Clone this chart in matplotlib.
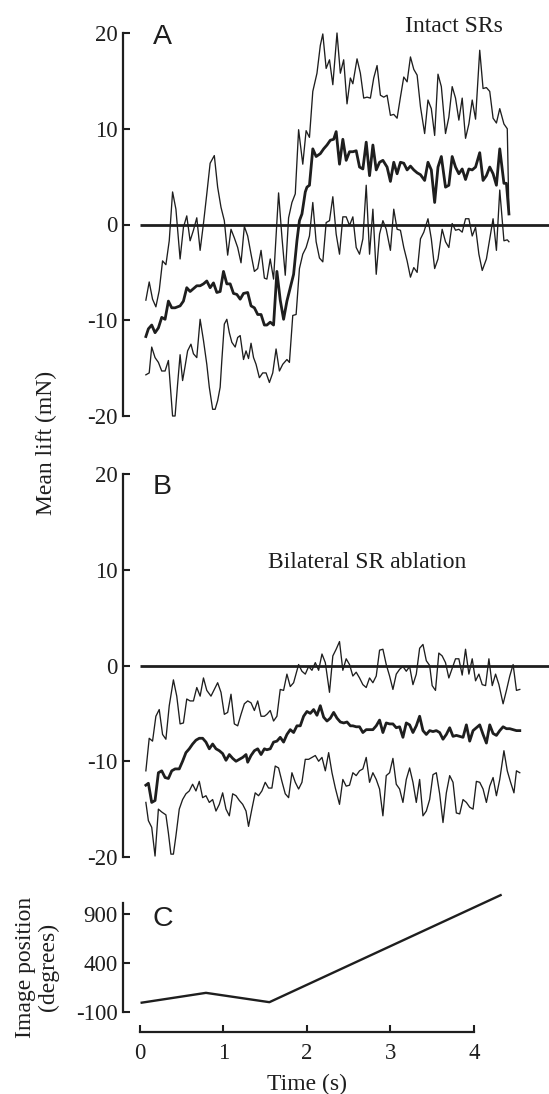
import matplotlib.pyplot as plt

plt.rcParams['font.family'] = ['Liberation Serif', 'DejaVu Serif']
plt.rcParams['axes.unicode_minus'] = False

ink = '#1e1e1e'

# ---------------- data ----------------
# Panel A - intact SRs: mean lift and the two envelope lines (mN)
a_up_t = [0.07, 0.11, 0.15, 0.19, 0.23, 0.27, 0.31, 0.35, 0.39, 0.43, 0.48, 0.52, 0.56, 0.60, 0.64, 0.68,
          0.72, 0.76, 0.80, 0.84, 0.89, 0.93, 0.97, 1.01, 1.05, 1.09, 1.13, 1.17, 1.21, 1.25, 1.29, 1.33,
          1.37, 1.41, 1.45, 1.49, 1.52, 1.56, 1.60, 1.66, 1.70, 1.74, 1.78, 1.82, 1.86, 1.90, 1.95, 1.99,
          2.03, 2.07, 2.12, 2.16, 2.19, 2.23, 2.27, 2.31, 2.36, 2.40, 2.44, 2.48, 2.52, 2.55, 2.60, 2.64,
          2.68, 2.72, 2.76, 2.80, 2.84, 2.88, 2.92, 2.96, 3.00, 3.04, 3.08, 3.12, 3.16, 3.20, 3.24, 3.28,
          3.32, 3.36, 3.41, 3.45, 3.49, 3.53, 3.57, 3.61, 3.66, 3.70, 3.74, 3.78, 3.82, 3.86, 3.90, 3.94,
          3.98, 4.02, 4.07, 4.11, 4.15, 4.19, 4.23, 4.27, 4.31, 4.36, 4.40, 4.42]
a_up_v = [-7.9, -6.0, -7.8, -8.6, -6.9, -3.8, -4.2, -1.7, 3.4, 1.6, -3.6, -0.3, 0.9, -1.7, -0.6, 0.7,
          -2.7, 0.1, 3.2, 6.4, 7.2, 3.9, 1.8, 0.4, -3.2, -0.5, -1.4, -2.4, -4.0, -0.2, -1.2, -3.1,
          -4.9, -4.6, -2.7, -5.6, -5.7, -3.6, -5.7, 3.3, -1.3, -5.3, 0.7, 2.3, 3.2, 9.9, 6.3, 9.8,
          9.1, 13.9, 15.8, 18.7, 19.9, 16.3, 17.2, 14.6, 20.0, 15.8, 17.2, 12.6, 15.3, 14.7, 17.3, 15.8,
          13.2, 13.3, 13.2, 15.3, 16.6, 13.5, 13.3, 13.5, 11.4, 11.5, 11.1, 13.3, 15.4, 14.9, 17.5, 16.2,
          15.6, 12.3, 9.5, 13.0, 12.1, 9.3, 15.7, 14.4, 9.5, 11.2, 14.4, 13.2, 10.9, 13.2, 9.0, 10.5,
          13.0, 11.0, 18.2, 14.2, 14.3, 13.9, 11.1, 10.6, 12.1, 10.5, 10.0, 1.1]

a_mean_t = [0.07, 0.10, 0.14, 0.18, 0.22, 0.26, 0.30, 0.34, 0.38, 0.42, 0.48, 0.52, 0.56, 0.60, 0.64, 0.68,
            0.72, 0.76, 0.80, 0.84, 0.88, 0.92, 0.96, 1.00, 1.04, 1.08, 1.12, 1.16, 1.20, 1.24, 1.29, 1.33,
            1.37, 1.41, 1.45, 1.49, 1.52, 1.56, 1.60, 1.64, 1.68, 1.72, 1.76, 1.80, 1.84, 1.88, 1.91, 1.94,
            1.98, 2.00, 2.03, 2.07, 2.11, 2.16, 2.20, 2.24, 2.28, 2.32, 2.35, 2.39, 2.43, 2.47, 2.51, 2.55,
            2.59, 2.63, 2.67, 2.71, 2.75, 2.79, 2.83, 2.87, 2.91, 2.96, 3.00, 3.04, 3.08, 3.12, 3.16, 3.20,
            3.24, 3.28, 3.32, 3.36, 3.41, 3.45, 3.49, 3.53, 3.57, 3.61, 3.66, 3.70, 3.74, 3.78, 3.82, 3.86,
            3.90, 3.94, 3.98, 4.02, 4.07, 4.11, 4.15, 4.19, 4.23, 4.27, 4.31, 4.36, 4.39, 4.42]
a_mean_v = [-11.7, -10.9, -10.5, -11.3, -10.8, -9.7, -9.9, -8.0, -8.7, -8.7, -8.5, -8.0, -6.6, -7.0, -6.7, -6.4,
            -6.4, -6.2, -5.9, -6.6, -6.1, -7.1, -7.0, -4.9, -6.2, -6.2, -7.2, -7.3, -7.8, -7.2, -7.1, -8.5,
            -8.7, -9.4, -9.4, -10.5, -10.5, -10.2, -10.5, -4.9, -7.9, -9.9, -8.0, -6.6, -5.2, -1.7, 0.4, 1.1,
            3.4, 3.9, 4.1, 7.9, 7.1, 7.4, 7.9, 8.3, 8.8, 8.9, 9.7, 6.3, 8.9, 6.7, 7.6, 7.6,
            7.7, 6.0, 5.8, 8.6, 5.1, 8.3, 5.7, 6.5, 6.7, 6.0, 4.5, 6.5, 5.3, 6.5, 6.4, 5.7,
            6.1, 5.7, 5.4, 5.2, 4.6, 6.5, 5.7, 2.3, 6.0, 7.1, 3.9, 4.1, 7.1, 6.0, 5.3, 5.8,
            4.7, 5.8, 5.7, 6.0, 7.5, 4.6, 5.1, 6.0, 5.3, 4.1, 7.9, 4.3, 4.3, 1.1]

a_low_t = [0.07, 0.11, 0.14, 0.18, 0.22, 0.26, 0.30, 0.34, 0.39, 0.42, 0.45, 0.48, 0.51, 0.54, 0.57, 0.61,
           0.64, 0.68, 0.72, 0.76, 0.80, 0.83, 0.87, 0.90, 0.93, 0.96, 0.98, 1.01, 1.04, 1.07, 1.10, 1.14,
           1.17, 1.20, 1.24, 1.27, 1.30, 1.33, 1.36, 1.39, 1.43, 1.47, 1.51, 1.55, 1.59, 1.63, 1.67, 1.71,
           1.76, 1.79, 1.83, 1.87, 1.91, 1.95, 1.99, 2.03, 2.07, 2.11, 2.15, 2.19, 2.23, 2.27, 2.31, 2.35,
           2.39, 2.43, 2.47, 2.51, 2.55, 2.59, 2.63, 2.67, 2.71, 2.75, 2.79, 2.83, 2.87, 2.91, 2.95, 3.00,
           3.04, 3.08, 3.12, 3.16, 3.20, 3.24, 3.28, 3.32, 3.36, 3.40, 3.45, 3.49, 3.53, 3.57, 3.62, 3.66,
           3.70, 3.74, 3.78, 3.82, 3.86, 3.90, 3.94, 3.98, 4.02, 4.06, 4.10, 4.15, 4.19, 4.23, 4.27, 4.31,
           4.36, 4.40, 4.42]
a_low_v = [-15.7, -15.5, -12.8, -13.9, -14.4, -15.3, -15.3, -14.2, -20.0, -20.0, -16.7, -13.6, -16.3, -14.8, -13.2, -12.5,
           -13.5, -13.9, -9.9, -12.1, -14.6, -17.0, -19.3, -19.3, -18.4, -17.0, -14.2, -10.4, -9.9, -11.3, -12.3, -12.8,
           -11.8, -11.6, -14.1, -13.2, -14.0, -12.4, -13.9, -14.6, -16.0, -15.5, -15.5, -16.5, -15.5, -13.0, -15.3, -14.6,
           -14.1, -14.4, -9.5, -9.4, -4.6, -3.1, -2.4, -1.2, 2.3, -1.8, -3.5, -3.9, 0.2, 0.4, 2.9, -1.0,
           -3.1, 0.8, 0.8, -0.1, 0.8, -2.4, -3.1, -1.5, 4.1, -3.1, 1.6, -5.2, -1.0, 0.4, -0.5, -2.7,
           1.6, -0.5, -0.6, -2.4, -3.8, -5.5, -4.5, -5.0, -1.5, -0.8, 0.6, -1.5, -4.6, -3.6, -0.5, -1.8,
           -2.4, 0.1, -0.6, -0.5, -0.8, 0.6, 0.6, -1.2, -0.3, -3.1, -4.8, -3.6, -1.5, 0.6, -2.7, 3.6,
           -1.7, -1.6, -1.8]

# Panel B - bilateral SR ablation
b_up_t = [0.07, 0.11, 0.15, 0.19, 0.23, 0.27, 0.31, 0.35, 0.40, 0.44, 0.48, 0.52, 0.56, 0.60, 0.64, 0.68,
          0.72, 0.76, 0.80, 0.85, 0.89, 0.93, 0.97, 1.01, 1.05, 1.09, 1.13, 1.17, 1.21, 1.25, 1.29, 1.33,
          1.37, 1.41, 1.45, 1.49, 1.52, 1.56, 1.60, 1.64, 1.68, 1.72, 1.76, 1.80, 1.84, 1.90, 1.94, 1.98,
          2.02, 2.06, 2.10, 2.14, 2.18, 2.22, 2.27, 2.31, 2.35, 2.39, 2.43, 2.47, 2.51, 2.55, 2.59, 2.63,
          2.67, 2.71, 2.75, 2.79, 2.83, 2.87, 2.91, 2.95, 2.99, 3.03, 3.07, 3.11, 3.15, 3.19, 3.23, 3.27,
          3.31, 3.35, 3.39, 3.43, 3.47, 3.50, 3.54, 3.58, 3.62, 3.66, 3.70, 3.74, 3.78, 3.82, 3.86, 3.90,
          3.94, 3.98, 4.02, 4.06, 4.10, 4.14, 4.18, 4.22, 4.26, 4.30, 4.35, 4.39, 4.43, 4.47, 4.51, 4.55]
b_up_v = [-11.0, -7.6, -7.9, -5.3, -4.6, -7.2, -7.7, -4.2, -1.5, -3.2, -6.1, -6.0, -3.5, -3.7, -3.7, -2.3,
          -3.2, -1.3, -2.6, -3.2, -2.5, -1.8, -2.8, -5.1, -4.9, -3.0, -6.1, -6.3, -5.1, -4.0, -3.7, -3.9,
          -4.7, -3.7, -5.3, -5.3, -5.1, -4.7, -5.8, -5.3, -2.5, -2.6, -0.9, -2.2, -1.8, 0.1, -0.6, -0.9,
          -0.1, -0.5, 0.3, -0.5, 1.2, 0.3, -2.8, 1.0, 1.7, 2.5, -0.5, 0.7, 0.1, -1.1, -0.7, -1.3,
          -2.0, -2.3, -1.3, -1.8, -1.1, 1.6, 1.7, 0.1, -1.1, -2.5, -0.9, -0.4, -0.1, -0.6, -0.1, -2.0,
          -0.9, 1.8, 2.2, 0.5, 0.0, -2.1, -2.6, 1.3, 1.0, 0.3, -1.3, -0.3, 0.7, 0.7, -1.0, 1.7,
          -0.9, 0.7, -1.6, -0.9, -2.0, -2.1, 0.7, -2.1, -0.9, -2.0, -4.0, -2.6, -1.1, 0.1, -2.6, -2.5]

b_mean_t = [0.07, 0.10, 0.14, 0.18, 0.22, 0.26, 0.30, 0.34, 0.38, 0.42, 0.47, 0.51, 0.55, 0.59, 0.63, 0.67,
            0.71, 0.75, 0.79, 0.83, 0.87, 0.91, 0.95, 0.99, 1.03, 1.07, 1.11, 1.15, 1.19, 1.23, 1.27, 1.29,
            1.33, 1.37, 1.41, 1.45, 1.49, 1.52, 1.56, 1.60, 1.64, 1.68, 1.72, 1.76, 1.80, 1.84, 1.88, 1.92,
            1.96, 2.00, 2.04, 2.08, 2.12, 2.16, 2.20, 2.24, 2.28, 2.32, 2.36, 2.40, 2.44, 2.48, 2.52, 2.55,
            2.59, 2.63, 2.67, 2.71, 2.75, 2.79, 2.83, 2.87, 2.91, 2.95, 2.99, 3.03, 3.07, 3.11, 3.15, 3.19,
            3.23, 3.27, 3.31, 3.35, 3.39, 3.43, 3.47, 3.51, 3.55, 3.59, 3.63, 3.67, 3.71, 3.75, 3.79, 3.83,
            3.87, 3.91, 3.95, 3.99, 4.03, 4.07, 4.11, 4.15, 4.19, 4.23, 4.27, 4.31, 4.35, 4.39, 4.43, 4.47,
            4.51, 4.55]
b_mean_v = [-12.5, -12.3, -14.3, -14.1, -11.2, -11.0, -11.7, -11.8, -11.0, -10.8, -10.8, -10.0, -9.1, -8.7, -8.2, -7.8,
            -7.6, -7.6, -8.0, -8.7, -8.2, -8.7, -8.9, -9.2, -9.9, -9.3, -9.7, -10.0, -9.8, -9.6, -9.3, -10.1,
            -9.4, -8.9, -8.7, -9.3, -8.7, -8.8, -8.7, -8.0, -7.9, -7.5, -8.0, -7.2, -6.7, -7.0, -6.3, -6.3,
            -5.3, -4.8, -5.0, -4.6, -5.2, -4.2, -5.4, -5.8, -5.5, -4.9, -5.5, -5.9, -6.0, -5.9, -6.3, -6.3,
            -6.4, -6.4, -7.0, -6.7, -6.7, -6.7, -6.3, -5.7, -7.0, -6.0, -6.1, -6.1, -6.5, -6.4, -7.5, -6.0,
            -6.2, -7.0, -6.3, -5.3, -6.8, -7.2, -6.8, -6.9, -6.8, -7.0, -7.7, -7.2, -6.5, -7.4, -7.3, -7.4,
            -7.5, -6.2, -7.9, -6.8, -6.5, -6.2, -7.2, -8.1, -6.2, -7.1, -7.3, -6.8, -6.4, -6.6, -6.6, -6.7,
            -6.8, -6.8]

b_low_t = [0.07, 0.10, 0.14, 0.18, 0.22, 0.26, 0.31, 0.34, 0.37, 0.40, 0.43, 0.47, 0.51, 0.55, 0.59, 0.63,
           0.67, 0.71, 0.75, 0.79, 0.83, 0.87, 0.91, 0.95, 0.99, 1.03, 1.07, 1.11, 1.15, 1.19, 1.23, 1.27,
           1.30, 1.34, 1.38, 1.42, 1.46, 1.50, 1.54, 1.58, 1.62, 1.66, 1.70, 1.74, 1.78, 1.82, 1.86, 1.90,
           1.94, 1.98, 2.02, 2.06, 2.10, 2.14, 2.18, 2.22, 2.26, 2.30, 2.34, 2.39, 2.43, 2.47, 2.51, 2.55,
           2.59, 2.63, 2.67, 2.71, 2.75, 2.79, 2.83, 2.87, 2.91, 2.95, 2.99, 3.03, 3.07, 3.11, 3.15, 3.19,
           3.23, 3.27, 3.31, 3.35, 3.39, 3.43, 3.47, 3.51, 3.55, 3.59, 3.63, 3.67, 3.71, 3.75, 3.79, 3.83,
           3.87, 3.91, 3.95, 3.99, 4.03, 4.07, 4.11, 4.15, 4.19, 4.23, 4.27, 4.31, 4.36, 4.40, 4.44, 4.48,
           4.51, 4.55]
b_low_v = [-14.3, -16.2, -16.9, -19.9, -15.0, -15.3, -15.6, -17.5, -19.7, -19.7, -17.8, -15.0, -14.0, -13.4, -13.1, -12.4,
           -13.1, -12.1, -13.8, -13.6, -14.3, -14.0, -15.2, -14.5, -13.3, -15.0, -15.7, -13.4, -13.6, -14.1, -14.5, -15.2,
           -16.8, -15.0, -13.3, -13.6, -13.1, -12.2, -12.8, -12.8, -10.5, -10.7, -12.1, -13.4, -13.8, -11.2, -12.2, -12.9,
           -12.2, -9.8, -9.8, -9.6, -9.4, -10.0, -9.6, -11.0, -9.1, -11.2, -12.8, -14.5, -11.9, -12.6, -12.5, -11.2,
           -11.5, -11.0, -10.8, -9.6, -12.2, -11.2, -11.9, -12.9, -15.7, -11.5, -11.2, -9.7, -12.4, -12.9, -14.3, -11.9,
           -10.7, -12.2, -14.3, -11.9, -15.7, -15.2, -14.0, -11.4, -11.2, -13.4, -16.4, -13.3, -11.5, -12.2, -15.4, -15.5,
           -14.0, -14.3, -14.8, -15.0, -12.1, -12.2, -12.9, -14.3, -12.6, -11.7, -13.6, -11.9, -8.9, -11.0, -12.2, -13.3,
           -11.0, -11.2]

# Panel C - image position (degrees)
c_t = [0.02, 0.79, 1.55, 4.32]
c_pos = [-5, 95, 0, 1090]

lift_ticks = [-20, -10, 0, 10, 20]
pos_ticks = [-100, 400, 900]
time_ticks = [0, 1, 2, 3, 4]

# ---------------- layout ----------------
W, H = 549, 1094
fig = plt.figure(figsize=(W / 100, H / 100), dpi=100)


def box(left, top, right, bottom):
    return [left / W, 1 - bottom / H, (right - left) / W, (bottom - top) / H]


xlim = (-0.204, 4.90)


def style(ax, ylim, yticks):
    ax.set_xlim(xlim)
    ax.set_ylim(ylim)
    ax.patch.set_visible(False)
    for s in ['top', 'right', 'bottom']:
        ax.spines[s].set_visible(False)
    ax.spines['left'].set_linewidth(1.6)
    ax.spines['left'].set_color(ink)
    ax.set_xticks([])
    ax.set_yticks(yticks)
    ax.tick_params(axis='y', direction='in', length=5, width=1.5, pad=4,
                   labelsize=16.5, color=ink, labelcolor=ink)


axA = fig.add_axes(box(123, 33, 549, 416))
axB = fig.add_axes(box(123, 474, 549, 857))
axC = fig.add_axes(box(123, 903, 549, 1012))

for ax, up, mean, low in [(axA, (a_up_t, a_up_v), (a_mean_t, a_mean_v), (a_low_t, a_low_v)),
                          (axB, (b_up_t, b_up_v), (b_mean_t, b_mean_v), (b_low_t, b_low_v))]:
    style(ax, (-20, 20), lift_ticks)
    ax.hlines(0, 0, xlim[1], color=ink, lw=2.0)
    ax.plot(*up, color=ink, lw=0.95, clip_on=False)
    ax.plot(*low, color=ink, lw=0.95, clip_on=False)
    ax.plot(*mean, color=ink, lw=2.0, clip_on=False)

style(axC, (-100, 1010), pos_ticks)
axC.plot(c_t, c_pos, color=ink, lw=1.7, clip_on=False)
axC.spines['bottom'].set_visible(True)
axC.spines['bottom'].set_position(('outward', 14.4))
axC.spines['bottom'].set_bounds(0, 4)
axC.spines['bottom'].set_linewidth(1.6)
axC.spines['bottom'].set_color(ink)
axC.set_xticks(time_ticks)
axC.tick_params(axis='x', direction='in', length=5, width=1.5, pad=8,
                labelsize=16.5, color=ink, labelcolor=ink)

# panel letters and annotations
fig.text(153 / W, 1 - 44 / H, 'A', family='Liberation Sans', fontsize=20.5, color=ink, va='baseline')
fig.text(153 / W, 1 - 494 / H, 'B', family='Liberation Sans', fontsize=20.5, color=ink, va='baseline')
fig.text(153 / W, 1 - 926 / H, 'C', family='Liberation Sans', fontsize=20.5, color=ink, va='baseline')
fig.text(405 / W, 1 - 32 / H, 'Intact SRs', fontsize=17, color=ink, va='baseline')
fig.text(268 / W, 1 - 568 / H, 'Bilateral SR ablation', fontsize=17, color=ink, va='baseline')

fig.text(46 / W, 1 - 443 / H, 'Mean lift (mN)', fontsize=17, color=ink,
         rotation=90, ha='center', va='center')
fig.text(37 / W, 1 - 967 / H, 'Image position\n(degrees)', fontsize=17, color=ink,
         rotation=90, ha='center', va='center', multialignment='center', linespacing=1.15)
fig.text(307 / W, 1 - 1084 / H, 'Time (s)', fontsize=17, color=ink, ha='center', va='center')

fig.savefig('out.png', dpi=100)
